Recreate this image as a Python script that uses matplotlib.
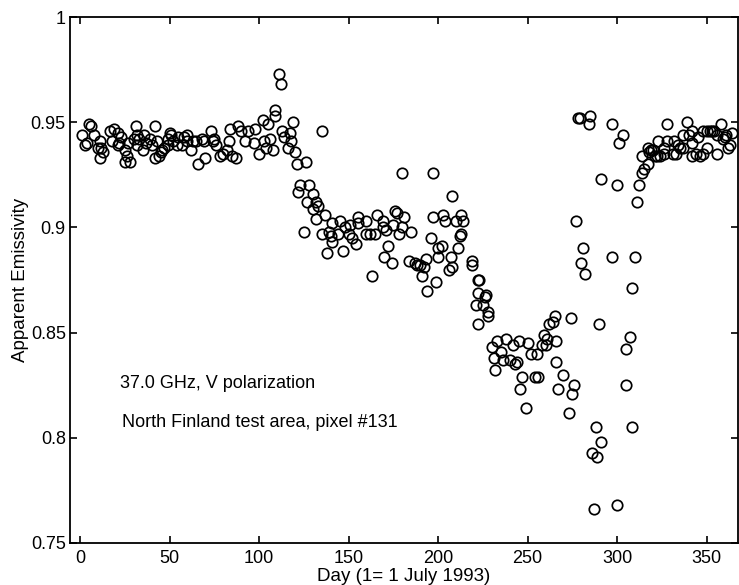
import matplotlib
matplotlib.use("Agg")
import matplotlib.pyplot as plt

plt.rcParams['font.family'] = ['Liberation Sans', 'DejaVu Sans']

# summer, flat part
day_1 = [1, 3, 4, 5, 6, 8, 10, 11, 11, 12, 13, 17, 18, 19, 21, 21, 22, 23, 25, 25,
         26, 27, 28, 30, 31, 32, 32, 33, 35, 36, 37, 39, 40, 42, 42, 43, 44, 45, 46, 47,
         49, 49, 50, 51, 52, 54, 55, 57, 58, 60, 60, 62, 63, 65, 66, 68, 69, 70, 73, 74,
         75, 76, 78, 80, 82, 83, 84, 85, 87, 88, 90, 92, 94, 97, 98, 100, 102, 103, 104, 105,
         106, 108, 109, 109, 111, 112, 113, 114, 116, 117, 118, 119, 120]
emis_1 = [0.944, 0.939, 0.940, 0.949, 0.948, 0.944, 0.938, 0.941, 0.933, 0.938, 0.936, 0.946, 0.941, 0.947, 0.945, 0.939, 0.940, 0.943, 0.931, 0.937,
          0.934, 0.940, 0.931, 0.942, 0.948, 0.944, 0.939, 0.942, 0.937, 0.944, 0.940, 0.942, 0.939, 0.948, 0.933, 0.941, 0.934, 0.936, 0.937, 0.938,
          0.942, 0.939, 0.945, 0.944, 0.941, 0.939, 0.943, 0.939, 0.943, 0.941, 0.944, 0.937, 0.941, 0.941, 0.930, 0.942, 0.941, 0.933, 0.946, 0.941,
          0.942, 0.939, 0.934, 0.935, 0.937, 0.941, 0.947, 0.934, 0.933, 0.948, 0.946, 0.941, 0.946, 0.940, 0.947, 0.935, 0.951, 0.941, 0.938, 0.949,
          0.942, 0.937, 0.953, 0.956, 0.973, 0.968, 0.946, 0.943, 0.938, 0.945, 0.941, 0.950, 0.936]

# autumn decline
day_2 = [121, 123, 122, 125, 126, 127, 128, 130, 130, 132, 132, 133, 135, 135, 137, 138, 139, 140, 141, 141,
         144, 145, 147, 148, 150, 151, 152, 154, 155, 155, 160, 160, 162, 163, 165, 166, 169, 169, 170, 171,
         172, 174, 175, 176, 177, 178, 180, 180, 181, 184, 185, 187, 188, 190, 191, 192, 193, 194, 196, 197,
         197, 199, 200, 200, 202, 203, 204, 206, 207, 208, 208, 210, 211, 212, 213, 213, 214, 219, 219, 221,
         222, 222, 222, 223, 225, 226, 227, 228, 228]
emis_2 = [0.930, 0.920, 0.917, 0.898, 0.931, 0.912, 0.920, 0.909, 0.916, 0.904, 0.912, 0.910, 0.897, 0.946, 0.906, 0.888, 0.898, 0.896, 0.902, 0.893,
          0.897, 0.903, 0.889, 0.900, 0.897, 0.901, 0.895, 0.892, 0.902, 0.905, 0.903, 0.897, 0.897, 0.877, 0.897, 0.906, 0.903, 0.900, 0.886, 0.899,
          0.891, 0.883, 0.901, 0.908, 0.907, 0.897, 0.926, 0.900, 0.905, 0.884, 0.898, 0.883, 0.882, 0.882, 0.877, 0.881, 0.885, 0.870, 0.895, 0.905,
          0.926, 0.874, 0.886, 0.890, 0.891, 0.906, 0.903, 0.880, 0.886, 0.881, 0.915, 0.903, 0.890, 0.896, 0.897, 0.906, 0.903, 0.882, 0.884, 0.863,
          0.854, 0.875, 0.869, 0.875, 0.863, 0.867, 0.868, 0.860, 0.858]

# winter, scattered part
day_3 = [230, 231, 232, 233, 235, 236, 238, 240, 242, 243, 244, 245, 246, 247, 249, 250, 252, 254, 255, 256,
         258, 259, 260, 261, 262, 264, 265, 266, 266, 267, 270, 273, 274, 275, 276, 277, 278, 279, 280, 281,
         282, 284, 285, 286, 287, 288, 289, 290, 291, 291, 297, 297, 300, 300, 301, 303, 305, 305, 307, 308,
         308, 310, 311, 312]
emis_3 = [0.843, 0.838, 0.832, 0.846, 0.841, 0.837, 0.847, 0.837, 0.844, 0.835, 0.836, 0.846, 0.823, 0.829, 0.814, 0.845, 0.840, 0.829, 0.840, 0.829,
          0.844, 0.849, 0.844, 0.847, 0.854, 0.855, 0.858, 0.836, 0.846, 0.823, 0.830, 0.812, 0.857, 0.821, 0.825, 0.903, 0.952, 0.952, 0.883, 0.890,
          0.878, 0.949, 0.953, 0.793, 0.766, 0.805, 0.791, 0.854, 0.923, 0.798, 0.886, 0.949, 0.920, 0.768, 0.940, 0.944, 0.825, 0.842, 0.848, 0.805,
          0.871, 0.886, 0.912, 0.920]

# recovery
day_4 = [314, 314, 315, 317, 317, 318, 319, 320, 321, 322, 323, 324, 326, 326, 328, 328, 331, 332, 333, 334,
         335, 337, 337, 339, 340, 342, 342, 342, 344, 345, 346, 348, 348, 350, 350, 352, 353, 354, 356, 356,
         358, 359, 360, 361, 362, 363, 364]
emis_4 = [0.926, 0.934, 0.928, 0.930, 0.938, 0.936, 0.937, 0.937, 0.934, 0.934, 0.941, 0.934, 0.935, 0.938, 0.941, 0.949, 0.935, 0.941, 0.935, 0.939,
          0.938, 0.944, 0.938, 0.950, 0.944, 0.946, 0.940, 0.934, 0.935, 0.943, 0.934, 0.946, 0.935, 0.938, 0.946, 0.946, 0.946, 0.946, 0.935, 0.944,
          0.949, 0.942, 0.943, 0.944, 0.938, 0.939, 0.945]

xticks = [0, 50, 100, 150, 200, 250, 300, 350]
yticks = [0.75, 0.8, 0.85, 0.9, 0.95, 1]
ytick_labels = ['0.75', '0.8', '0.85', '0.9', '0.95', '1']

fig = plt.figure(figsize=(7.39, 5.85), dpi=100)
ax = fig.add_axes([0.0947, 0.0718, 0.904, 0.899])

for d, e in [(day_1, emis_1), (day_2, emis_2), (day_3, emis_3), (day_4, emis_4)]:
    ax.plot(d, e, 'o', mfc='none', mec='black', ms=7.5, mew=1.25, ls='none')

ax.set_xlim(-5.6, 367.5)
ax.set_ylim(0.75, 1.0)
ax.set_xticks(xticks)
ax.set_yticks(yticks)
ax.set_yticklabels(ytick_labels)
ax.tick_params(direction='in', length=5, width=1.2, top=True, right=True, labelsize=13)
ax.tick_params(axis='x', pad=5)
ax.tick_params(axis='y', pad=3)
for s in ax.spines.values():
    s.set_linewidth(1.3)

ax.set_xlabel('Day (1= 1 July 1993)', fontsize=13.5, labelpad=1)
ax.set_ylabel('Apparent Emissivity', fontsize=13.5, labelpad=1)

ax.text(22.3, 0.8237, '37.0 GHz, V polarization', fontsize=13)
ax.text(23.4, 0.805, 'North Finland test area, pixel #131', fontsize=13)

fig.savefig('out.png', dpi=100)
